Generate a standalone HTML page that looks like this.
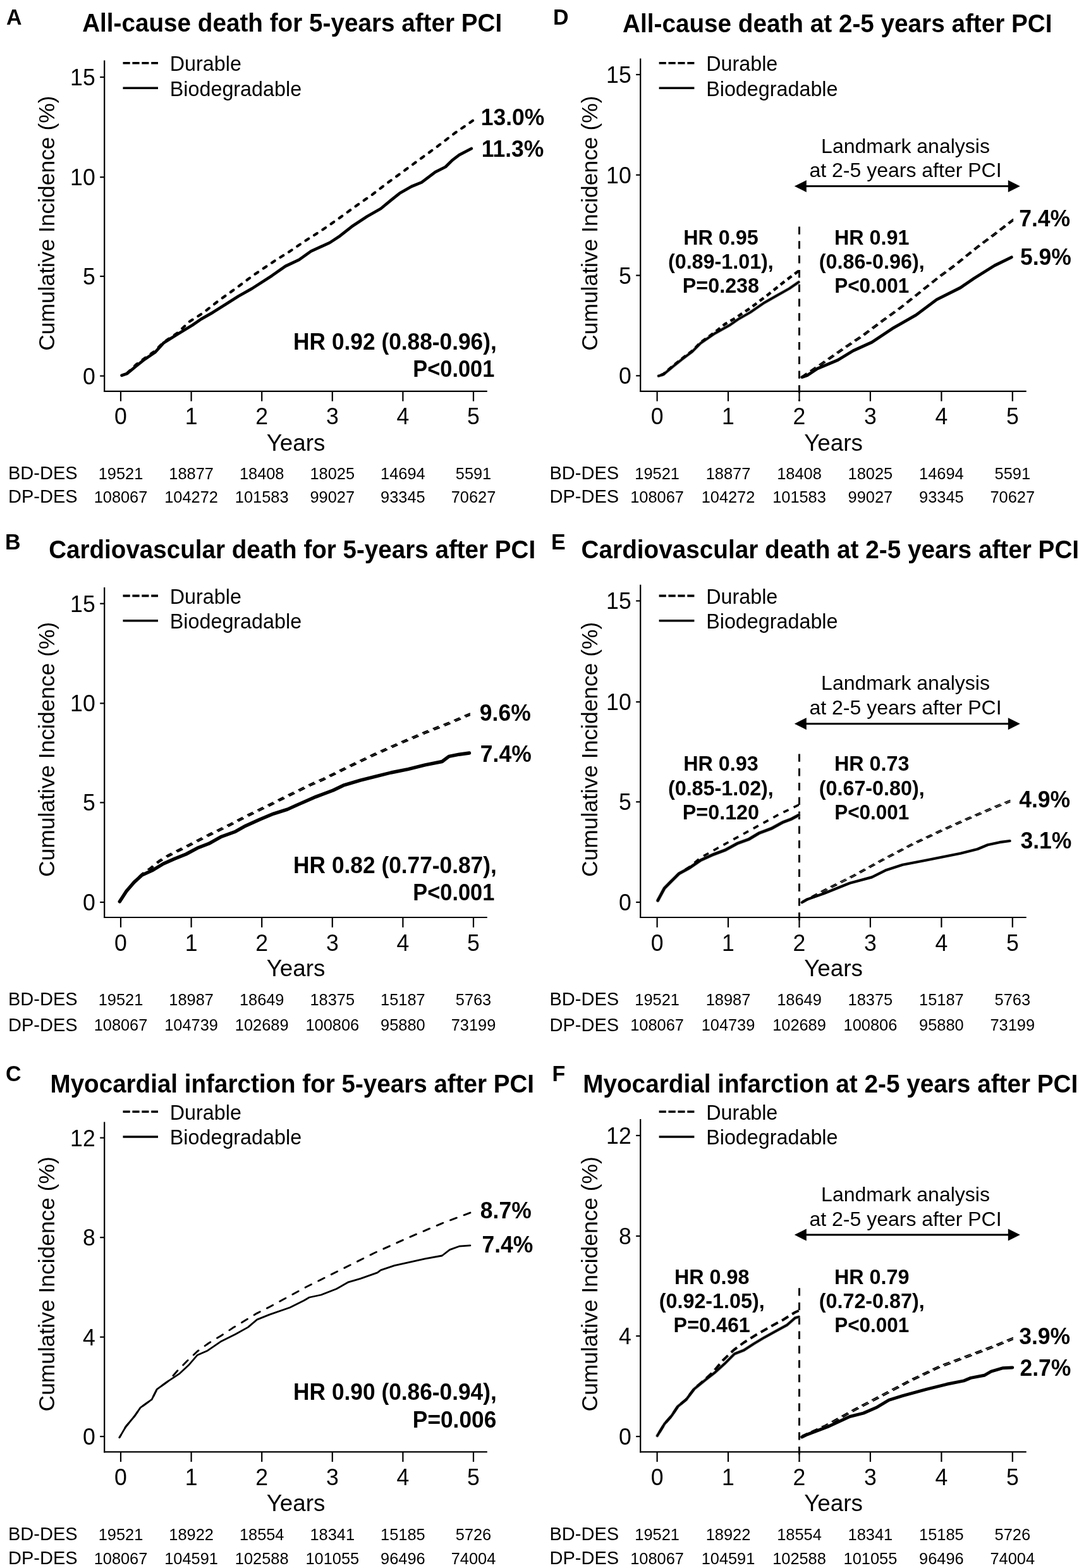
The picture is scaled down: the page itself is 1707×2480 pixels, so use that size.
<!DOCTYPE html>
<html lang="en">
<head>
<meta charset="utf-8">
<title>Cumulative incidence after PCI: durable vs biodegradable polymer DES</title>
<style>
html,body{margin:0;padding:0;background:#fff;}
body{width:1707px;height:2480px;overflow:hidden;}
svg{display:block;}
svg text{font-family:"Liberation Sans", sans-serif;fill:#000;}
</style>
</head>
<body>
<svg width="1707" height="2480" viewBox="0 0 1707 2480">
<rect x="0" y="0" width="1707" height="2480" fill="#ffffff"/>
<g id="panel-A">
<text transform="translate(10.0 39.0) scale(1 1.02)" font-size="34" font-weight="bold">A</text>
<text transform="translate(130.2 50.4) scale(1 1.03)" font-size="38.67" font-weight="bold">All-cause death for 5-years after PCI</text>
<line x1="165.2" y1="95.6" x2="165.2" y2="619.9" stroke="#000" stroke-width="2.2"/>
<line x1="164.1" y1="618.8" x2="770.8" y2="618.8" stroke="#000" stroke-width="2.2"/>
<line x1="158.2" y1="122.0" x2="165.2" y2="122.0" stroke="#000" stroke-width="2.2"/>
<text transform="translate(150.7 135.0) scale(1 1.04)" font-size="35.6" text-anchor="end">15</text>
<line x1="158.2" y1="280.2" x2="165.2" y2="280.2" stroke="#000" stroke-width="2.2"/>
<text transform="translate(150.7 293.2) scale(1 1.04)" font-size="35.6" text-anchor="end">10</text>
<line x1="158.2" y1="437.0" x2="165.2" y2="437.0" stroke="#000" stroke-width="2.2"/>
<text transform="translate(150.7 450.0) scale(1 1.04)" font-size="35.6" text-anchor="end">5</text>
<line x1="158.2" y1="594.6" x2="165.2" y2="594.6" stroke="#000" stroke-width="2.2"/>
<text transform="translate(150.7 607.6) scale(1 1.04)" font-size="35.6" text-anchor="end">0</text>
<line x1="191.0" y1="618.8" x2="191.0" y2="634.6" stroke="#000" stroke-width="2.2"/>
<text transform="translate(191.0 670.7) scale(1 1.04)" font-size="35.6" text-anchor="middle">0</text>
<line x1="302.6" y1="618.8" x2="302.6" y2="634.6" stroke="#000" stroke-width="2.2"/>
<text transform="translate(302.6 670.7) scale(1 1.04)" font-size="35.6" text-anchor="middle">1</text>
<line x1="414.2" y1="618.8" x2="414.2" y2="634.6" stroke="#000" stroke-width="2.2"/>
<text transform="translate(414.2 670.7) scale(1 1.04)" font-size="35.6" text-anchor="middle">2</text>
<line x1="525.8" y1="618.8" x2="525.8" y2="634.6" stroke="#000" stroke-width="2.2"/>
<text transform="translate(525.8 670.7) scale(1 1.04)" font-size="35.6" text-anchor="middle">3</text>
<line x1="637.4" y1="618.8" x2="637.4" y2="634.6" stroke="#000" stroke-width="2.2"/>
<text transform="translate(637.4 670.7) scale(1 1.04)" font-size="35.6" text-anchor="middle">4</text>
<line x1="749.0" y1="618.8" x2="749.0" y2="634.6" stroke="#000" stroke-width="2.2"/>
<text transform="translate(749.0 670.7) scale(1 1.04)" font-size="35.6" text-anchor="middle">5</text>
<text x="468.0" y="712.6" font-size="36.8" text-anchor="middle">Years</text>
<text transform="translate(85.7,353.2) rotate(-90)" font-size="35.4" text-anchor="middle">Cumulative Incidence (%)</text>
<line x1="194.5" y1="99.7" x2="250.0" y2="99.7" stroke="#000" stroke-width="3.6" stroke-dasharray="11.2 3.7"/>
<line x1="194.5" y1="139.3" x2="250.0" y2="139.3" stroke="#000" stroke-width="3.6"/>
<text x="268.8" y="112.1" font-size="32.3">Durable</text>
<text x="268.8" y="151.7" font-size="32.3">Biodegradable</text>
<text x="13.0" y="758.2" font-size="29.0">BD-DES</text>
<text x="13.0" y="795.2" font-size="29.0">DP-DES</text>
<text transform="translate(191.0 757.8) scale(1 1.02)" font-size="25.4" text-anchor="middle">19521</text>
<text transform="translate(191.0 794.8) scale(1 1.02)" font-size="25.4" text-anchor="middle">108067</text>
<text transform="translate(302.6 757.8) scale(1 1.02)" font-size="25.4" text-anchor="middle">18877</text>
<text transform="translate(302.6 794.8) scale(1 1.02)" font-size="25.4" text-anchor="middle">104272</text>
<text transform="translate(414.2 757.8) scale(1 1.02)" font-size="25.4" text-anchor="middle">18408</text>
<text transform="translate(414.2 794.8) scale(1 1.02)" font-size="25.4" text-anchor="middle">101583</text>
<text transform="translate(525.8 757.8) scale(1 1.02)" font-size="25.4" text-anchor="middle">18025</text>
<text transform="translate(525.8 794.8) scale(1 1.02)" font-size="25.4" text-anchor="middle">99027</text>
<text transform="translate(637.4 757.8) scale(1 1.02)" font-size="25.4" text-anchor="middle">14694</text>
<text transform="translate(637.4 794.8) scale(1 1.02)" font-size="25.4" text-anchor="middle">93345</text>
<text transform="translate(749.0 757.8) scale(1 1.02)" font-size="25.4" text-anchor="middle">5591</text>
<text transform="translate(749.0 794.8) scale(1 1.02)" font-size="25.4" text-anchor="middle">70627</text>
<polyline points="748.0,190.8 744.7,193.1 718.7,211.1 692.6,231.2 666.5,250.2 640.5,269.3 614.4,288.3 588.3,308.3 562.3,326.4 536.2,345.4 510.2,363.5 482.1,381.5 454.0,400.6 439.4,409.4 425.3,418.8 399.0,436.7 372.7,456.4 346.4,475.2 320.0,495.9 300.0,508.5 280.2,527.0 258.6,541.5 245.2,555.0 229.0,566.5 215.5,576.5 200.7,590.5 192.6,593.8" fill="none" stroke="#000" stroke-width="4.2" stroke-linejoin="round" stroke-linecap="round" stroke-dasharray="5.6 10.4"/>
<polyline points="192.6,593.8 200.7,591.1 215.5,579.0 229.0,568.2 245.2,557.4 258.6,542.6 280.2,529.1 304.4,514.3 317.9,504.9 336.8,494.1 358.3,480.6 377.2,468.5 398.7,456.4 430.0,436.2 451.6,421.0 473.1,410.9 492.0,397.4 521.6,383.9 537.8,373.2 556.6,358.3 580.9,342.2 602.4,330.0 618.6,316.6 632.1,305.8 650.9,295.0 667.1,288.3 688.6,272.1 704.8,264.0 715.6,253.3 726.4,245.2 745.8,235.0" fill="none" stroke="#000" stroke-width="4.7" stroke-linejoin="round" stroke-linecap="round"/>
<text transform="translate(760.7 198.0) scale(1 1.04)" font-size="35.5" font-weight="bold">13.0%</text>
<text transform="translate(761.7 247.9) scale(1 1.04)" font-size="35.5" font-weight="bold">11.3%</text>
<text transform="translate(785.8 553.4) scale(1 1.04)" font-size="35.3" font-weight="bold" text-anchor="end">HR 0.92 (0.88-0.96),</text>
<text transform="translate(782.3 595.7) scale(1 1.04)" font-size="35.3" font-weight="bold" text-anchor="end" textLength="129.0" lengthAdjust="spacingAndGlyphs">P&lt;0.001</text>
</g>
<g id="panel-B">
<text transform="translate(8.0 869.1) scale(1 1.02)" font-size="34" font-weight="bold">B</text>
<text transform="translate(77.2 883.1) scale(1 1.03)" font-size="38.6" font-weight="bold">Cardiovascular death for 5-years after PCI</text>
<line x1="165.2" y1="929.1" x2="165.2" y2="1452.1" stroke="#000" stroke-width="2.2"/>
<line x1="164.1" y1="1451.0" x2="770.8" y2="1451.0" stroke="#000" stroke-width="2.2"/>
<line x1="158.2" y1="954.7" x2="165.2" y2="954.7" stroke="#000" stroke-width="2.2"/>
<text transform="translate(150.7 967.7) scale(1 1.04)" font-size="35.6" text-anchor="end">15</text>
<line x1="158.2" y1="1112.4" x2="165.2" y2="1112.4" stroke="#000" stroke-width="2.2"/>
<text transform="translate(150.7 1125.4) scale(1 1.04)" font-size="35.6" text-anchor="end">10</text>
<line x1="158.2" y1="1269.4" x2="165.2" y2="1269.4" stroke="#000" stroke-width="2.2"/>
<text transform="translate(150.7 1282.4) scale(1 1.04)" font-size="35.6" text-anchor="end">5</text>
<line x1="158.2" y1="1427.0" x2="165.2" y2="1427.0" stroke="#000" stroke-width="2.2"/>
<text transform="translate(150.7 1440.0) scale(1 1.04)" font-size="35.6" text-anchor="end">0</text>
<line x1="191.0" y1="1451.0" x2="191.0" y2="1466.8" stroke="#000" stroke-width="2.2"/>
<text transform="translate(191.0 1503.6) scale(1 1.04)" font-size="35.6" text-anchor="middle">0</text>
<line x1="302.6" y1="1451.0" x2="302.6" y2="1466.8" stroke="#000" stroke-width="2.2"/>
<text transform="translate(302.6 1503.6) scale(1 1.04)" font-size="35.6" text-anchor="middle">1</text>
<line x1="414.2" y1="1451.0" x2="414.2" y2="1466.8" stroke="#000" stroke-width="2.2"/>
<text transform="translate(414.2 1503.6) scale(1 1.04)" font-size="35.6" text-anchor="middle">2</text>
<line x1="525.8" y1="1451.0" x2="525.8" y2="1466.8" stroke="#000" stroke-width="2.2"/>
<text transform="translate(525.8 1503.6) scale(1 1.04)" font-size="35.6" text-anchor="middle">3</text>
<line x1="637.4" y1="1451.0" x2="637.4" y2="1466.8" stroke="#000" stroke-width="2.2"/>
<text transform="translate(637.4 1503.6) scale(1 1.04)" font-size="35.6" text-anchor="middle">4</text>
<line x1="749.0" y1="1451.0" x2="749.0" y2="1466.8" stroke="#000" stroke-width="2.2"/>
<text transform="translate(749.0 1503.6) scale(1 1.04)" font-size="35.6" text-anchor="middle">5</text>
<text x="468.0" y="1544.3" font-size="36.8" text-anchor="middle">Years</text>
<text transform="translate(85.7,1185.4) rotate(-90)" font-size="35.4" text-anchor="middle">Cumulative Incidence (%)</text>
<line x1="194.5" y1="942.4" x2="250.0" y2="942.4" stroke="#000" stroke-width="3.6" stroke-dasharray="11.2 3.7"/>
<line x1="194.5" y1="981.7" x2="250.0" y2="981.7" stroke="#000" stroke-width="3.6"/>
<text x="268.8" y="954.8" font-size="32.3">Durable</text>
<text x="268.8" y="994.1" font-size="32.3">Biodegradable</text>
<text x="13.0" y="1590.3" font-size="29.0">BD-DES</text>
<text x="13.0" y="1630.7" font-size="29.0">DP-DES</text>
<text transform="translate(191.0 1589.9) scale(1 1.02)" font-size="25.4" text-anchor="middle">19521</text>
<text transform="translate(191.0 1630.3) scale(1 1.02)" font-size="25.4" text-anchor="middle">108067</text>
<text transform="translate(302.6 1589.9) scale(1 1.02)" font-size="25.4" text-anchor="middle">18987</text>
<text transform="translate(302.6 1630.3) scale(1 1.02)" font-size="25.4" text-anchor="middle">104739</text>
<text transform="translate(414.2 1589.9) scale(1 1.02)" font-size="25.4" text-anchor="middle">18649</text>
<text transform="translate(414.2 1630.3) scale(1 1.02)" font-size="25.4" text-anchor="middle">102689</text>
<text transform="translate(525.8 1589.9) scale(1 1.02)" font-size="25.4" text-anchor="middle">18375</text>
<text transform="translate(525.8 1630.3) scale(1 1.02)" font-size="25.4" text-anchor="middle">100806</text>
<text transform="translate(637.4 1589.9) scale(1 1.02)" font-size="25.4" text-anchor="middle">15187</text>
<text transform="translate(637.4 1630.3) scale(1 1.02)" font-size="25.4" text-anchor="middle">95880</text>
<text transform="translate(749.0 1589.9) scale(1 1.02)" font-size="25.4" text-anchor="middle">5763</text>
<text transform="translate(749.0 1630.3) scale(1 1.02)" font-size="25.4" text-anchor="middle">73199</text>
<polyline points="743.9,1128.2 710.2,1142.6 672.5,1157.4 634.8,1173.2 591.7,1192.4 553.9,1210.2 510.8,1231.5 491.8,1239.7 458.7,1255.8 426.6,1271.8 393.5,1287.8 362.5,1303.9 329.4,1319.9 296.3,1337.0 266.2,1352.0 252.0,1360.7 238.1,1372.1 224.1,1382.2 212.1,1393.5 200.0,1407.7 189.3,1424.7" fill="none" stroke="#000" stroke-width="2.3" stroke-linejoin="round" stroke-linecap="butt" stroke-dasharray="10 8"/>
<polyline points="743.9,1130.9 710.2,1145.2 672.5,1160.0 634.8,1175.8 591.7,1195.0 553.9,1212.8 510.8,1234.1 491.8,1242.3 458.7,1258.4 426.6,1274.4 393.5,1290.4 362.5,1306.5 329.4,1322.5 296.3,1339.6 266.2,1354.6 252.0,1363.3 238.1,1374.8 224.1,1384.8 212.1,1396.1 200.0,1410.3 189.3,1427.3" fill="none" stroke="#000" stroke-width="2.3" stroke-linejoin="round" stroke-linecap="butt" stroke-dasharray="10 8" stroke-dashoffset="2.0"/>
<polyline points="189.3,1426.0 200.0,1409.5 212.1,1395.4 224.1,1384.4 242.2,1376.0 258.2,1366.3 276.2,1358.3 294.3,1351.0 312.3,1341.3 330.4,1334.3 350.4,1323.2 372.5,1315.2 388.5,1306.2 410.6,1296.2 432.6,1287.1 454.7,1280.1 474.7,1271.1 500.0,1260.1 527.0,1250.0 543.2,1242.2 570.1,1234.1 597.0,1227.4 618.6,1222.0 645.5,1216.6 672.5,1209.9 699.4,1204.5 710.2,1196.4 726.4,1193.2 742.5,1191.0" fill="none" stroke="#000" stroke-width="5.4" stroke-linejoin="round" stroke-linecap="round"/>
<text transform="translate(758.8 1139.8) scale(1 1.04)" font-size="35.5" font-weight="bold">9.6%</text>
<text transform="translate(759.8 1204.5) scale(1 1.04)" font-size="35.5" font-weight="bold">7.4%</text>
<text transform="translate(785.8 1380.7) scale(1 1.04)" font-size="35.3" font-weight="bold" text-anchor="end">HR 0.82 (0.77-0.87),</text>
<text transform="translate(782.3 1423.8) scale(1 1.04)" font-size="35.3" font-weight="bold" text-anchor="end" textLength="129.0" lengthAdjust="spacingAndGlyphs">P&lt;0.001</text>
</g>
<g id="panel-C">
<text transform="translate(8.9 1709.8) scale(1 1.02)" font-size="34" font-weight="bold">C</text>
<text transform="translate(79.5 1728.2) scale(1 1.03)" font-size="38.6" font-weight="bold">Myocardial infarction for 5-years after PCI</text>
<line x1="165.2" y1="1774.5" x2="165.2" y2="2297.4" stroke="#000" stroke-width="2.2"/>
<line x1="164.1" y1="2296.3" x2="770.8" y2="2296.3" stroke="#000" stroke-width="2.2"/>
<line x1="158.2" y1="1799.6" x2="165.2" y2="1799.6" stroke="#000" stroke-width="2.2"/>
<text transform="translate(150.7 1812.6) scale(1 1.04)" font-size="35.6" text-anchor="end">12</text>
<line x1="158.2" y1="1957.2" x2="165.2" y2="1957.2" stroke="#000" stroke-width="2.2"/>
<text transform="translate(150.7 1970.2) scale(1 1.04)" font-size="35.6" text-anchor="end">8</text>
<line x1="158.2" y1="2114.7" x2="165.2" y2="2114.7" stroke="#000" stroke-width="2.2"/>
<text transform="translate(150.7 2127.7) scale(1 1.04)" font-size="35.6" text-anchor="end">4</text>
<line x1="158.2" y1="2272.0" x2="165.2" y2="2272.0" stroke="#000" stroke-width="2.2"/>
<text transform="translate(150.7 2285.0) scale(1 1.04)" font-size="35.6" text-anchor="end">0</text>
<line x1="191.0" y1="2296.3" x2="191.0" y2="2312.1" stroke="#000" stroke-width="2.2"/>
<text transform="translate(191.0 2348.7) scale(1 1.04)" font-size="35.6" text-anchor="middle">0</text>
<line x1="302.6" y1="2296.3" x2="302.6" y2="2312.1" stroke="#000" stroke-width="2.2"/>
<text transform="translate(302.6 2348.7) scale(1 1.04)" font-size="35.6" text-anchor="middle">1</text>
<line x1="414.2" y1="2296.3" x2="414.2" y2="2312.1" stroke="#000" stroke-width="2.2"/>
<text transform="translate(414.2 2348.7) scale(1 1.04)" font-size="35.6" text-anchor="middle">2</text>
<line x1="525.8" y1="2296.3" x2="525.8" y2="2312.1" stroke="#000" stroke-width="2.2"/>
<text transform="translate(525.8 2348.7) scale(1 1.04)" font-size="35.6" text-anchor="middle">3</text>
<line x1="637.4" y1="2296.3" x2="637.4" y2="2312.1" stroke="#000" stroke-width="2.2"/>
<text transform="translate(637.4 2348.7) scale(1 1.04)" font-size="35.6" text-anchor="middle">4</text>
<line x1="749.0" y1="2296.3" x2="749.0" y2="2312.1" stroke="#000" stroke-width="2.2"/>
<text transform="translate(749.0 2348.7) scale(1 1.04)" font-size="35.6" text-anchor="middle">5</text>
<text x="468.0" y="2389.8" font-size="36.8" text-anchor="middle">Years</text>
<text transform="translate(85.7,2030.8) rotate(-90)" font-size="35.4" text-anchor="middle">Cumulative Incidence (%)</text>
<line x1="194.5" y1="1758.3" x2="250.0" y2="1758.3" stroke="#000" stroke-width="3.6" stroke-dasharray="11.2 3.7"/>
<line x1="194.5" y1="1798.0" x2="250.0" y2="1798.0" stroke="#000" stroke-width="3.6"/>
<text x="268.8" y="1770.7" font-size="32.3">Durable</text>
<text x="268.8" y="1810.4" font-size="32.3">Biodegradable</text>
<text x="13.0" y="2435.9" font-size="29.0">BD-DES</text>
<text x="13.0" y="2474.4" font-size="29.0">DP-DES</text>
<text transform="translate(191.0 2435.5) scale(1 1.02)" font-size="25.4" text-anchor="middle">19521</text>
<text transform="translate(191.0 2474.0) scale(1 1.02)" font-size="25.4" text-anchor="middle">108067</text>
<text transform="translate(302.6 2435.5) scale(1 1.02)" font-size="25.4" text-anchor="middle">18922</text>
<text transform="translate(302.6 2474.0) scale(1 1.02)" font-size="25.4" text-anchor="middle">104591</text>
<text transform="translate(414.2 2435.5) scale(1 1.02)" font-size="25.4" text-anchor="middle">18554</text>
<text transform="translate(414.2 2474.0) scale(1 1.02)" font-size="25.4" text-anchor="middle">102588</text>
<text transform="translate(525.8 2435.5) scale(1 1.02)" font-size="25.4" text-anchor="middle">18341</text>
<text transform="translate(525.8 2474.0) scale(1 1.02)" font-size="25.4" text-anchor="middle">101055</text>
<text transform="translate(637.4 2435.5) scale(1 1.02)" font-size="25.4" text-anchor="middle">15185</text>
<text transform="translate(637.4 2474.0) scale(1 1.02)" font-size="25.4" text-anchor="middle">96496</text>
<text transform="translate(749.0 2435.5) scale(1 1.02)" font-size="25.4" text-anchor="middle">5726</text>
<text transform="translate(749.0 2474.0) scale(1 1.02)" font-size="25.4" text-anchor="middle">74004</text>
<polyline points="743.9,1918.1 699.4,1934.8 645.5,1957.7 591.7,1982.0 537.8,2008.9 483.9,2035.8 446.7,2056.0 426.6,2067.0 406.6,2077.1 388.5,2088.1 368.5,2100.1 350.4,2112.2 330.4,2124.2 312.3,2137.2 296.3,2152.3 282.3,2166.3 266.2,2184.3 248.2,2197.4 240.2,2213.4 222.1,2226.4 213.1,2239.5 199.0,2256.5 189.0,2273.6" fill="none" stroke="#000" stroke-width="2.9" stroke-linejoin="round" stroke-linecap="round" stroke-dasharray="10.5 12.5"/>
<polyline points="189.0,2273.6 199.0,2256.5 213.1,2239.5 222.1,2226.4 240.2,2213.4 248.2,2197.4 266.2,2184.3 284.3,2172.3 298.3,2159.3 312.3,2143.2 328.4,2136.2 350.4,2121.2 372.5,2110.2 392.5,2099.1 406.6,2087.1 426.6,2079.1 458.7,2068.0 480.8,2057.0 489.3,2052.0 508.1,2048.0 532.4,2038.5 551.2,2027.8 570.1,2022.4 597.0,2012.9 602.4,2008.9 624.0,2001.6 645.5,1996.8 672.5,1990.9 699.4,1986.0 711.5,1976.6 726.4,1971.2 743.9,1969.8" fill="none" stroke="#000" stroke-width="2.8" stroke-linejoin="round" stroke-linecap="round"/>
<text transform="translate(759.8 1927.0) scale(1 1.04)" font-size="35.5" font-weight="bold">8.7%</text>
<text transform="translate(762.5 1980.6) scale(1 1.04)" font-size="35.5" font-weight="bold">7.4%</text>
<text transform="translate(785.8 2214.4) scale(1 1.04)" font-size="35.3" font-weight="bold" text-anchor="end">HR 0.90 (0.86-0.94),</text>
<text transform="translate(785.3 2257.5) scale(1 1.04)" font-size="35.3" font-weight="bold" text-anchor="end">P=0.006</text>
</g>
<g id="panel-D">
<text transform="translate(874.9 39.0) scale(1 1.02)" font-size="34" font-weight="bold">D</text>
<text transform="translate(985.1 50.6) scale(1 1.03)" font-size="38.7" font-weight="bold">All-cause death at 2-5 years after PCI</text>
<line x1="1013.2" y1="92.4" x2="1013.2" y2="619.9" stroke="#000" stroke-width="2.2"/>
<line x1="1012.1" y1="618.8" x2="1623.7" y2="618.8" stroke="#000" stroke-width="2.2"/>
<line x1="1006.2" y1="118.0" x2="1013.2" y2="118.0" stroke="#000" stroke-width="2.2"/>
<text transform="translate(998.7 131.0) scale(1 1.04)" font-size="35.6" text-anchor="end">15</text>
<line x1="1006.2" y1="276.7" x2="1013.2" y2="276.7" stroke="#000" stroke-width="2.2"/>
<text transform="translate(998.7 289.7) scale(1 1.04)" font-size="35.6" text-anchor="end">10</text>
<line x1="1006.2" y1="435.6" x2="1013.2" y2="435.6" stroke="#000" stroke-width="2.2"/>
<text transform="translate(998.7 448.6) scale(1 1.04)" font-size="35.6" text-anchor="end">5</text>
<line x1="1006.2" y1="594.3" x2="1013.2" y2="594.3" stroke="#000" stroke-width="2.2"/>
<text transform="translate(998.7 607.3) scale(1 1.04)" font-size="35.6" text-anchor="end">0</text>
<line x1="1039.6" y1="618.8" x2="1039.6" y2="634.6" stroke="#000" stroke-width="2.2"/>
<text transform="translate(1039.6 670.7) scale(1 1.04)" font-size="35.6" text-anchor="middle">0</text>
<line x1="1152.0" y1="618.8" x2="1152.0" y2="634.6" stroke="#000" stroke-width="2.2"/>
<text transform="translate(1152.0 670.7) scale(1 1.04)" font-size="35.6" text-anchor="middle">1</text>
<line x1="1264.5" y1="618.8" x2="1264.5" y2="634.6" stroke="#000" stroke-width="2.2"/>
<text transform="translate(1264.5 670.7) scale(1 1.04)" font-size="35.6" text-anchor="middle">2</text>
<line x1="1376.9" y1="618.8" x2="1376.9" y2="634.6" stroke="#000" stroke-width="2.2"/>
<text transform="translate(1376.9 670.7) scale(1 1.04)" font-size="35.6" text-anchor="middle">3</text>
<line x1="1489.4" y1="618.8" x2="1489.4" y2="634.6" stroke="#000" stroke-width="2.2"/>
<text transform="translate(1489.4 670.7) scale(1 1.04)" font-size="35.6" text-anchor="middle">4</text>
<line x1="1601.8" y1="618.8" x2="1601.8" y2="634.6" stroke="#000" stroke-width="2.2"/>
<text transform="translate(1601.8 670.7) scale(1 1.04)" font-size="35.6" text-anchor="middle">5</text>
<text x="1318.5" y="712.6" font-size="36.8" text-anchor="middle">Years</text>
<text transform="translate(945.0,353.2) rotate(-90)" font-size="35.4" text-anchor="middle">Cumulative Incidence (%)</text>
<line x1="1042.6" y1="99.7" x2="1098.4" y2="99.7" stroke="#000" stroke-width="3.6" stroke-dasharray="11.2 3.7"/>
<line x1="1042.6" y1="139.3" x2="1098.4" y2="139.3" stroke="#000" stroke-width="3.6"/>
<text x="1117.2" y="112.1" font-size="32.3">Durable</text>
<text x="1117.2" y="151.7" font-size="32.3">Biodegradable</text>
<text x="869.5" y="758.2" font-size="29.0">BD-DES</text>
<text x="869.5" y="795.2" font-size="29.0">DP-DES</text>
<text transform="translate(1039.6 757.8) scale(1 1.02)" font-size="25.4" text-anchor="middle">19521</text>
<text transform="translate(1039.6 794.8) scale(1 1.02)" font-size="25.4" text-anchor="middle">108067</text>
<text transform="translate(1152.0 757.8) scale(1 1.02)" font-size="25.4" text-anchor="middle">18877</text>
<text transform="translate(1152.0 794.8) scale(1 1.02)" font-size="25.4" text-anchor="middle">104272</text>
<text transform="translate(1264.5 757.8) scale(1 1.02)" font-size="25.4" text-anchor="middle">18408</text>
<text transform="translate(1264.5 794.8) scale(1 1.02)" font-size="25.4" text-anchor="middle">101583</text>
<text transform="translate(1376.9 757.8) scale(1 1.02)" font-size="25.4" text-anchor="middle">18025</text>
<text transform="translate(1376.9 794.8) scale(1 1.02)" font-size="25.4" text-anchor="middle">99027</text>
<text transform="translate(1489.4 757.8) scale(1 1.02)" font-size="25.4" text-anchor="middle">14694</text>
<text transform="translate(1489.4 794.8) scale(1 1.02)" font-size="25.4" text-anchor="middle">93345</text>
<text transform="translate(1601.8 757.8) scale(1 1.02)" font-size="25.4" text-anchor="middle">5591</text>
<text transform="translate(1601.8 794.8) scale(1 1.02)" font-size="25.4" text-anchor="middle">70627</text>
<line x1="1264.5" y1="358.5" x2="1264.5" y2="634.3" stroke="#000" stroke-width="3.0" stroke-dasharray="12.3 10.5"/>
<text x="1432.5" y="241.7" font-size="32.0" text-anchor="middle">Landmark analysis</text>
<text x="1432.5" y="280.2" font-size="32.0" text-anchor="middle">at 2-5 years after PCI</text>
<line x1="1270.8" y1="294.5" x2="1599.8" y2="294.5" stroke="#000" stroke-width="3"/>
<polygon points="1256.8,294.5 1275.8,285.0 1275.8,304.0" fill="#000"/>
<polygon points="1613.8,294.5 1594.8,285.0 1594.8,304.0" fill="#000"/>
<polyline points="1041.8,594.6 1049.4,592.4 1065.5,579.0 1079.0,568.2 1095.2,556.1 1108.6,542.6 1130.2,527.8 1154.4,514.3 1167.9,504.9 1186.8,494.1 1208.3,479.3 1227.2,468.5 1248.7,456.4 1263.6,446.1" fill="none" stroke="#8a8a8a" stroke-width="5.0" stroke-linejoin="round" stroke-linecap="round"/>
<polyline points="1041.8,594.6 1049.4,592.4 1065.5,579.0 1079.0,568.2 1095.2,556.1 1108.6,542.6 1130.2,527.8 1154.4,514.3 1167.9,504.9 1186.8,494.1 1208.3,479.3 1227.2,468.5 1248.7,456.4 1263.6,446.1" fill="none" stroke="#000" stroke-width="3.3" stroke-linejoin="round" stroke-linecap="round"/>
<polyline points="1263.6,428.5 1240.7,445.5 1213.7,467.1 1186.8,487.4 1162.5,503.5 1146.4,513.0 1130.2,526.0 1108.6,541.5 1095.2,555.0 1079.0,567.2 1065.5,578.0 1049.4,591.8 1041.8,594.6" fill="none" stroke="#000" stroke-width="4.4" stroke-linejoin="round" stroke-linecap="butt" stroke-dasharray="8 6"/>
<polyline points="1603.0,346.3 1573.4,369.2 1546.4,389.4 1510.0,418.7 1500.0,426.2 1485.6,436.7 1455.5,460.8 1425.4,484.9 1395.3,506.7 1365.3,529.2 1335.2,549.5 1305.1,570.6 1268.8,595.2" fill="none" stroke="#000" stroke-width="2.1" stroke-linejoin="round" stroke-linecap="butt" stroke-dasharray="10.5 6.5"/>
<polyline points="1603.0,348.9 1573.4,371.8 1546.4,392.0 1510.0,421.3 1500.0,428.8 1485.6,439.3 1455.5,463.4 1425.4,487.5 1395.3,509.3 1365.3,531.8 1335.2,552.1 1305.1,573.2 1268.8,597.8" fill="none" stroke="#000" stroke-width="2.1" stroke-linejoin="round" stroke-linecap="butt" stroke-dasharray="10.5 6.5" stroke-dashoffset="2.0"/>
<polyline points="1268.8,596.5 1277.0,593.8 1293.2,583.0 1325.5,569.5 1349.7,554.7 1379.4,541.2 1411.7,519.7 1449.4,498.1 1481.8,473.9 1519.5,455.0 1541.0,440.2 1573.4,420.0 1600.3,406.8" fill="none" stroke="#000" stroke-width="4.8" stroke-linejoin="round" stroke-linecap="round"/>
<text transform="translate(1612.2 358.3) scale(1 1.04)" font-size="35.5" font-weight="bold">7.4%</text>
<text transform="translate(1613.9 418.9) scale(1 1.04)" font-size="35.5" font-weight="bold">5.9%</text>
<text transform="translate(1140.4 386.6) scale(1 1.04)" font-size="32.3" font-weight="bold" text-anchor="middle">HR 0.95</text>
<text transform="translate(1140.4 425.0) scale(1 1.04)" font-size="32.3" font-weight="bold" text-anchor="middle">(0.89-1.01),</text>
<text transform="translate(1140.4 463.1) scale(1 1.04)" font-size="32.3" font-weight="bold" text-anchor="middle">P=0.238</text>
<text transform="translate(1379.2 386.6) scale(1 1.04)" font-size="32.3" font-weight="bold" text-anchor="middle">HR 0.91</text>
<text transform="translate(1379.2 425.0) scale(1 1.04)" font-size="32.3" font-weight="bold" text-anchor="middle">(0.86-0.96),</text>
<text transform="translate(1379.2 463.1) scale(1 1.04)" font-size="32.3" font-weight="bold" text-anchor="middle" textLength="118.0" lengthAdjust="spacingAndGlyphs">P&lt;0.001</text>
</g>
<g id="panel-E">
<text transform="translate(872.0 869.1) scale(1 1.02)" font-size="34" font-weight="bold">E</text>
<text transform="translate(919.6 883.1) scale(1 1.03)" font-size="38.72" font-weight="bold">Cardiovascular death at 2-5 years after PCI</text>
<line x1="1013.2" y1="924.8" x2="1013.2" y2="1452.1" stroke="#000" stroke-width="2.2"/>
<line x1="1012.1" y1="1451.0" x2="1623.7" y2="1451.0" stroke="#000" stroke-width="2.2"/>
<line x1="1006.2" y1="950.4" x2="1013.2" y2="950.4" stroke="#000" stroke-width="2.2"/>
<text transform="translate(998.7 963.4) scale(1 1.04)" font-size="35.6" text-anchor="end">15</text>
<line x1="1006.2" y1="1110.2" x2="1013.2" y2="1110.2" stroke="#000" stroke-width="2.2"/>
<text transform="translate(998.7 1123.2) scale(1 1.04)" font-size="35.6" text-anchor="end">10</text>
<line x1="1006.2" y1="1268.3" x2="1013.2" y2="1268.3" stroke="#000" stroke-width="2.2"/>
<text transform="translate(998.7 1281.3) scale(1 1.04)" font-size="35.6" text-anchor="end">5</text>
<line x1="1006.2" y1="1427.0" x2="1013.2" y2="1427.0" stroke="#000" stroke-width="2.2"/>
<text transform="translate(998.7 1440.0) scale(1 1.04)" font-size="35.6" text-anchor="end">0</text>
<line x1="1039.6" y1="1451.0" x2="1039.6" y2="1466.8" stroke="#000" stroke-width="2.2"/>
<text transform="translate(1039.6 1503.6) scale(1 1.04)" font-size="35.6" text-anchor="middle">0</text>
<line x1="1152.0" y1="1451.0" x2="1152.0" y2="1466.8" stroke="#000" stroke-width="2.2"/>
<text transform="translate(1152.0 1503.6) scale(1 1.04)" font-size="35.6" text-anchor="middle">1</text>
<line x1="1264.5" y1="1451.0" x2="1264.5" y2="1466.8" stroke="#000" stroke-width="2.2"/>
<text transform="translate(1264.5 1503.6) scale(1 1.04)" font-size="35.6" text-anchor="middle">2</text>
<line x1="1376.9" y1="1451.0" x2="1376.9" y2="1466.8" stroke="#000" stroke-width="2.2"/>
<text transform="translate(1376.9 1503.6) scale(1 1.04)" font-size="35.6" text-anchor="middle">3</text>
<line x1="1489.4" y1="1451.0" x2="1489.4" y2="1466.8" stroke="#000" stroke-width="2.2"/>
<text transform="translate(1489.4 1503.6) scale(1 1.04)" font-size="35.6" text-anchor="middle">4</text>
<line x1="1601.8" y1="1451.0" x2="1601.8" y2="1466.8" stroke="#000" stroke-width="2.2"/>
<text transform="translate(1601.8 1503.6) scale(1 1.04)" font-size="35.6" text-anchor="middle">5</text>
<text x="1318.5" y="1544.3" font-size="36.8" text-anchor="middle">Years</text>
<text transform="translate(945.0,1185.4) rotate(-90)" font-size="35.4" text-anchor="middle">Cumulative Incidence (%)</text>
<line x1="1042.6" y1="942.4" x2="1098.4" y2="942.4" stroke="#000" stroke-width="3.6" stroke-dasharray="11.2 3.7"/>
<line x1="1042.6" y1="981.7" x2="1098.4" y2="981.7" stroke="#000" stroke-width="3.6"/>
<text x="1117.2" y="954.8" font-size="32.3">Durable</text>
<text x="1117.2" y="994.1" font-size="32.3">Biodegradable</text>
<text x="869.5" y="1590.3" font-size="29.0">BD-DES</text>
<text x="869.5" y="1630.7" font-size="29.0">DP-DES</text>
<text transform="translate(1039.6 1589.9) scale(1 1.02)" font-size="25.4" text-anchor="middle">19521</text>
<text transform="translate(1039.6 1630.3) scale(1 1.02)" font-size="25.4" text-anchor="middle">108067</text>
<text transform="translate(1152.0 1589.9) scale(1 1.02)" font-size="25.4" text-anchor="middle">18987</text>
<text transform="translate(1152.0 1630.3) scale(1 1.02)" font-size="25.4" text-anchor="middle">104739</text>
<text transform="translate(1264.5 1589.9) scale(1 1.02)" font-size="25.4" text-anchor="middle">18649</text>
<text transform="translate(1264.5 1630.3) scale(1 1.02)" font-size="25.4" text-anchor="middle">102689</text>
<text transform="translate(1376.9 1589.9) scale(1 1.02)" font-size="25.4" text-anchor="middle">18375</text>
<text transform="translate(1376.9 1630.3) scale(1 1.02)" font-size="25.4" text-anchor="middle">100806</text>
<text transform="translate(1489.4 1589.9) scale(1 1.02)" font-size="25.4" text-anchor="middle">15187</text>
<text transform="translate(1489.4 1630.3) scale(1 1.02)" font-size="25.4" text-anchor="middle">95880</text>
<text transform="translate(1601.8 1589.9) scale(1 1.02)" font-size="25.4" text-anchor="middle">5763</text>
<text transform="translate(1601.8 1630.3) scale(1 1.02)" font-size="25.4" text-anchor="middle">73199</text>
<line x1="1264.5" y1="1192.4" x2="1264.5" y2="1466.5" stroke="#000" stroke-width="3.0" stroke-dasharray="12.3 10.5"/>
<text x="1432.5" y="1091.3" font-size="32.0" text-anchor="middle">Landmark analysis</text>
<text x="1432.5" y="1129.9" font-size="32.0" text-anchor="middle">at 2-5 years after PCI</text>
<line x1="1270.8" y1="1144.7" x2="1599.8" y2="1144.7" stroke="#000" stroke-width="3"/>
<polygon points="1256.8,1144.7 1275.8,1135.2 1275.8,1154.2" fill="#000"/>
<polygon points="1613.8,1144.7 1594.8,1135.2 1594.8,1154.2" fill="#000"/>
<polyline points="1040.6,1424.3 1051.2,1404.7 1062.6,1393.3 1074.0,1381.9 1090.3,1373.0 1108.2,1360.7 1127.7,1351.8 1147.3,1344.5 1166.8,1333.9 1184.7,1327.4 1201.0,1317.6 1220.6,1310.3 1238.5,1300.5 1251.5,1295.6 1263.7,1289.1" fill="none" stroke="#8a8a8a" stroke-width="5.6" stroke-linejoin="round" stroke-linecap="round"/>
<polyline points="1040.6,1424.3 1051.2,1404.7 1062.6,1393.3 1074.0,1381.9 1090.3,1373.0 1108.2,1360.7 1127.7,1351.8 1147.3,1344.5 1166.8,1333.9 1184.7,1327.4 1201.0,1317.6 1220.6,1310.3 1238.5,1300.5 1251.5,1295.6 1263.7,1289.1" fill="none" stroke="#000" stroke-width="4.2" stroke-linejoin="round" stroke-linecap="round"/>
<polyline points="1263.7,1273.0 1232.0,1288.3 1199.4,1306.2 1166.8,1324.1 1134.2,1342.0 1108.2,1356.7 1090.3,1371.5 1074.0,1381.5 1062.6,1393.0 1051.2,1404.5 1040.6,1424.3" fill="none" stroke="#000" stroke-width="3.6" stroke-linejoin="round" stroke-linecap="butt" stroke-dasharray="9 9"/>
<polyline points="1598.4,1265.7 1575.8,1274.7 1530.7,1293.9 1485.6,1314.2 1440.5,1335.6 1395.3,1359.3 1350.2,1384.1 1305.1,1406.7 1268.8,1425.8" fill="none" stroke="#000" stroke-width="1.9" stroke-linejoin="round" stroke-linecap="butt" stroke-dasharray="10 7"/>
<polyline points="1598.4,1268.1 1575.8,1277.1 1530.7,1296.3 1485.6,1316.6 1440.5,1338.0 1395.3,1361.7 1350.2,1386.5 1305.1,1409.1 1268.8,1428.2" fill="none" stroke="#000" stroke-width="1.9" stroke-linejoin="round" stroke-linecap="butt" stroke-dasharray="10 7" stroke-dashoffset="2.0"/>
<polyline points="1268.8,1427.3 1277.0,1422.4 1303.9,1413.0 1344.4,1396.8 1379.4,1387.4 1400.9,1376.6 1427.9,1367.7 1465.6,1360.5 1519.5,1349.7 1546.4,1343.0 1562.6,1336.2 1581.5,1332.2 1597.6,1330.0" fill="none" stroke="#000" stroke-width="4.2" stroke-linejoin="round" stroke-linecap="round"/>
<text transform="translate(1612.2 1276.9) scale(1 1.04)" font-size="35.5" font-weight="bold">4.9%</text>
<text transform="translate(1614.5 1341.6) scale(1 1.04)" font-size="35.5" font-weight="bold">3.1%</text>
<text transform="translate(1140.4 1218.8) scale(1 1.04)" font-size="32.3" font-weight="bold" text-anchor="middle">HR 0.93</text>
<text transform="translate(1140.4 1257.5) scale(1 1.04)" font-size="32.3" font-weight="bold" text-anchor="middle">(0.85-1.02),</text>
<text transform="translate(1140.4 1296.3) scale(1 1.04)" font-size="32.3" font-weight="bold" text-anchor="middle">P=0.120</text>
<text transform="translate(1379.2 1218.8) scale(1 1.04)" font-size="32.3" font-weight="bold" text-anchor="middle">HR 0.73</text>
<text transform="translate(1379.2 1257.5) scale(1 1.04)" font-size="32.3" font-weight="bold" text-anchor="middle">(0.67-0.80),</text>
<text transform="translate(1379.2 1296.3) scale(1 1.04)" font-size="32.3" font-weight="bold" text-anchor="middle" textLength="118.0" lengthAdjust="spacingAndGlyphs">P&lt;0.001</text>
</g>
<g id="panel-F">
<text transform="translate(873.4 1709.8) scale(1 1.02)" font-size="34" font-weight="bold">F</text>
<text transform="translate(922.2 1728.2) scale(1 1.03)" font-size="38.73" font-weight="bold">Myocardial infarction at 2-5 years after PCI</text>
<line x1="1013.2" y1="1769.9" x2="1013.2" y2="2297.4" stroke="#000" stroke-width="2.2"/>
<line x1="1012.1" y1="2296.3" x2="1623.7" y2="2296.3" stroke="#000" stroke-width="2.2"/>
<line x1="1006.2" y1="1796.0" x2="1013.2" y2="1796.0" stroke="#000" stroke-width="2.2"/>
<text transform="translate(998.7 1809.0) scale(1 1.04)" font-size="35.6" text-anchor="end">12</text>
<line x1="1006.2" y1="1955.0" x2="1013.2" y2="1955.0" stroke="#000" stroke-width="2.2"/>
<text transform="translate(998.7 1968.0) scale(1 1.04)" font-size="35.6" text-anchor="end">8</text>
<line x1="1006.2" y1="2113.1" x2="1013.2" y2="2113.1" stroke="#000" stroke-width="2.2"/>
<text transform="translate(998.7 2126.1) scale(1 1.04)" font-size="35.6" text-anchor="end">4</text>
<line x1="1006.2" y1="2272.0" x2="1013.2" y2="2272.0" stroke="#000" stroke-width="2.2"/>
<text transform="translate(998.7 2285.0) scale(1 1.04)" font-size="35.6" text-anchor="end">0</text>
<line x1="1039.6" y1="2296.3" x2="1039.6" y2="2312.1" stroke="#000" stroke-width="2.2"/>
<text transform="translate(1039.6 2348.7) scale(1 1.04)" font-size="35.6" text-anchor="middle">0</text>
<line x1="1152.0" y1="2296.3" x2="1152.0" y2="2312.1" stroke="#000" stroke-width="2.2"/>
<text transform="translate(1152.0 2348.7) scale(1 1.04)" font-size="35.6" text-anchor="middle">1</text>
<line x1="1264.5" y1="2296.3" x2="1264.5" y2="2312.1" stroke="#000" stroke-width="2.2"/>
<text transform="translate(1264.5 2348.7) scale(1 1.04)" font-size="35.6" text-anchor="middle">2</text>
<line x1="1376.9" y1="2296.3" x2="1376.9" y2="2312.1" stroke="#000" stroke-width="2.2"/>
<text transform="translate(1376.9 2348.7) scale(1 1.04)" font-size="35.6" text-anchor="middle">3</text>
<line x1="1489.4" y1="2296.3" x2="1489.4" y2="2312.1" stroke="#000" stroke-width="2.2"/>
<text transform="translate(1489.4 2348.7) scale(1 1.04)" font-size="35.6" text-anchor="middle">4</text>
<line x1="1601.8" y1="2296.3" x2="1601.8" y2="2312.1" stroke="#000" stroke-width="2.2"/>
<text transform="translate(1601.8 2348.7) scale(1 1.04)" font-size="35.6" text-anchor="middle">5</text>
<text x="1318.5" y="2389.8" font-size="36.8" text-anchor="middle">Years</text>
<text transform="translate(945.0,2030.8) rotate(-90)" font-size="35.4" text-anchor="middle">Cumulative Incidence (%)</text>
<line x1="1042.6" y1="1758.3" x2="1098.4" y2="1758.3" stroke="#000" stroke-width="3.6" stroke-dasharray="11.2 3.7"/>
<line x1="1042.6" y1="1798.0" x2="1098.4" y2="1798.0" stroke="#000" stroke-width="3.6"/>
<text x="1117.2" y="1770.7" font-size="32.3">Durable</text>
<text x="1117.2" y="1810.4" font-size="32.3">Biodegradable</text>
<text x="869.5" y="2435.9" font-size="29.0">BD-DES</text>
<text x="869.5" y="2474.4" font-size="29.0">DP-DES</text>
<text transform="translate(1039.6 2435.5) scale(1 1.02)" font-size="25.4" text-anchor="middle">19521</text>
<text transform="translate(1039.6 2474.0) scale(1 1.02)" font-size="25.4" text-anchor="middle">108067</text>
<text transform="translate(1152.0 2435.5) scale(1 1.02)" font-size="25.4" text-anchor="middle">18922</text>
<text transform="translate(1152.0 2474.0) scale(1 1.02)" font-size="25.4" text-anchor="middle">104591</text>
<text transform="translate(1264.5 2435.5) scale(1 1.02)" font-size="25.4" text-anchor="middle">18554</text>
<text transform="translate(1264.5 2474.0) scale(1 1.02)" font-size="25.4" text-anchor="middle">102588</text>
<text transform="translate(1376.9 2435.5) scale(1 1.02)" font-size="25.4" text-anchor="middle">18341</text>
<text transform="translate(1376.9 2474.0) scale(1 1.02)" font-size="25.4" text-anchor="middle">101055</text>
<text transform="translate(1489.4 2435.5) scale(1 1.02)" font-size="25.4" text-anchor="middle">15185</text>
<text transform="translate(1489.4 2474.0) scale(1 1.02)" font-size="25.4" text-anchor="middle">96496</text>
<text transform="translate(1601.8 2435.5) scale(1 1.02)" font-size="25.4" text-anchor="middle">5726</text>
<text transform="translate(1601.8 2474.0) scale(1 1.02)" font-size="25.4" text-anchor="middle">74004</text>
<line x1="1264.5" y1="2037.2" x2="1264.5" y2="2311.8" stroke="#000" stroke-width="3.0" stroke-dasharray="12.3 10.5"/>
<text x="1432.5" y="1899.8" font-size="32.0" text-anchor="middle">Landmark analysis</text>
<text x="1432.5" y="1938.9" font-size="32.0" text-anchor="middle">at 2-5 years after PCI</text>
<line x1="1270.8" y1="1953.1" x2="1599.8" y2="1953.1" stroke="#000" stroke-width="3"/>
<polygon points="1256.8,1953.1 1275.8,1943.6 1275.8,1962.6" fill="#000"/>
<polygon points="1613.8,1953.1 1594.8,1943.6 1594.8,1962.6" fill="#000"/>
<polyline points="1039.8,2270.9 1051.2,2252.2 1062.6,2239.2 1072.3,2224.5 1085.4,2213.9 1098.4,2196.8 1116.3,2182.2 1131.0,2170.8 1147.3,2156.1 1161.9,2141.4 1176.6,2135.7 1192.9,2125.1 1209.2,2115.4 1225.4,2106.4 1245.0,2095.8 1258.0,2084.4 1263.7,2082.8" fill="none" stroke="#8a8a8a" stroke-width="5.0" stroke-linejoin="round" stroke-linecap="round"/>
<polyline points="1039.8,2270.9 1051.2,2252.2 1062.6,2239.2 1072.3,2224.5 1085.4,2213.9 1098.4,2196.8 1116.3,2182.2 1131.0,2170.8 1147.3,2156.1 1161.9,2141.4 1176.6,2135.7 1192.9,2125.1 1209.2,2115.4 1225.4,2106.4 1245.0,2095.8 1258.0,2084.4 1263.7,2082.8" fill="none" stroke="#000" stroke-width="3.4" stroke-linejoin="round" stroke-linecap="round"/>
<polyline points="1263.7,2073.0 1258.0,2075.5 1238.5,2087.7 1217.3,2099.1 1196.1,2111.3 1176.6,2123.5 1160.3,2135.7 1144.0,2151.2 1128.0,2170.0 1116.3,2181.0 1098.4,2196.3 1085.4,2213.5 1072.3,2224.5 1062.6,2239.2 1051.2,2252.2 1039.8,2270.9" fill="none" stroke="#000" stroke-width="4.0" stroke-linejoin="round" stroke-linecap="butt" stroke-dasharray="12 7"/>
<polyline points="1602.9,2115.6 1575.8,2126.9 1530.7,2143.8 1485.6,2160.7 1440.5,2182.2 1395.3,2205.9 1350.2,2229.5 1305.1,2254.4 1268.8,2270.7" fill="none" stroke="#000" stroke-width="2.1" stroke-linejoin="round" stroke-linecap="butt" stroke-dasharray="11 7"/>
<polyline points="1602.9,2118.2 1575.8,2129.5 1530.7,2146.4 1485.6,2163.3 1440.5,2184.8 1395.3,2208.5 1350.2,2232.1 1305.1,2257.0 1268.8,2273.3" fill="none" stroke="#000" stroke-width="2.1" stroke-linejoin="round" stroke-linecap="butt" stroke-dasharray="11 7" stroke-dashoffset="2.0"/>
<polyline points="1268.8,2272.8 1277.0,2268.8 1309.3,2256.7 1344.4,2240.5 1365.9,2235.1 1387.5,2225.7 1406.3,2214.4 1427.9,2207.6 1465.6,2197.4 1497.9,2189.3 1524.9,2183.9 1535.7,2179.4 1557.2,2175.3 1568.0,2169.1 1586.8,2163.7 1601.7,2162.9" fill="none" stroke="#000" stroke-width="5.0" stroke-linejoin="round" stroke-linecap="round"/>
<text transform="translate(1612.2 2125.5) scale(1 1.04)" font-size="35.5" font-weight="bold">3.9%</text>
<text transform="translate(1613.5 2176.4) scale(1 1.04)" font-size="35.5" font-weight="bold">2.7%</text>
<text transform="translate(1126.2 2030.5) scale(1 1.04)" font-size="32.3" font-weight="bold" text-anchor="middle">HR 0.98</text>
<text transform="translate(1126.2 2069.0) scale(1 1.04)" font-size="32.3" font-weight="bold" text-anchor="middle">(0.92-1.05),</text>
<text transform="translate(1126.2 2107.2) scale(1 1.04)" font-size="32.3" font-weight="bold" text-anchor="middle">P=0.461</text>
<text transform="translate(1379.2 2030.5) scale(1 1.04)" font-size="32.3" font-weight="bold" text-anchor="middle">HR 0.79</text>
<text transform="translate(1379.2 2069.0) scale(1 1.04)" font-size="32.3" font-weight="bold" text-anchor="middle">(0.72-0.87),</text>
<text transform="translate(1379.2 2107.2) scale(1 1.04)" font-size="32.3" font-weight="bold" text-anchor="middle" textLength="118.0" lengthAdjust="spacingAndGlyphs">P&lt;0.001</text>
</g>
</svg>
</body>
</html>
